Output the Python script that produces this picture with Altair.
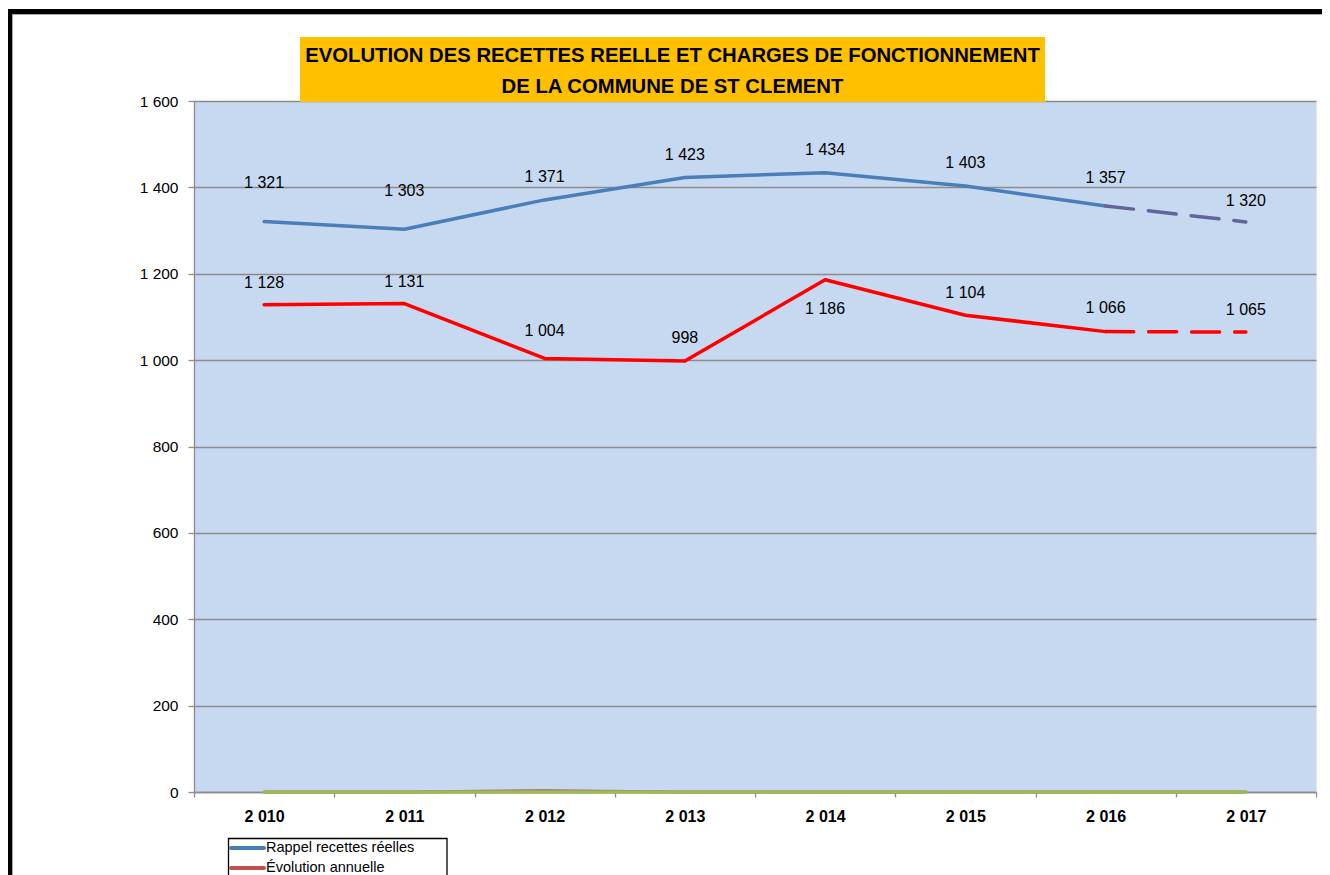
import altair as alt
import pandas as pd

# ---- data ----
YEARS = ["2 010", "2 011", "2 012", "2 013", "2 014", "2 015", "2 016", "2 017"]
RECETTES = [1321, 1303, 1371, 1423, 1434, 1403, 1357, 1320]
CHARGES = [1128, 1131, 1004, 998, 1186, 1104, 1066, 1065]
EVOLUTION = [0, 0, 3, 0, 0, 0, 0, 0]
AUTRE = [0, 0, 0, 0, 0, 0, 0, 0]
LEGEND_NAMES = ["Rappel recettes réelles", "Évolution annuelle"]
TITLE_LINES = ["EVOLUTION DES RECETTES REELLE ET CHARGES DE FONCTIONNEMENT",
               "DE LA COMMUNE DE  ST CLEMENT"]

# label offsets (style, in pixels)
RECETTES_LABEL_DY = [-38, -38, -23, -22, -23, -23, -28, -21]
CHARGES_LABEL_DY = [-22, -22, -27, -23, 29, -22, -24, -22]

BLUE = "#4A7EBB"
BLUE_DASH = "#64649B"
RED = "#FF0000"
DARK_RED = "#C0504D"
GREEN = "#9BBB59"
GRID = "#8C8C8C"
FONT = "Liberation Sans"

W, H = 1122, 691


def fmt(v):
    return f"{v:,}".replace(",", " ")


def frame(vals, idx=None):
    idx = idx if idx is not None else range(len(YEARS))
    return pd.DataFrame([{"year": YEARS[i], "value": vals[i], "label": fmt(vals[i])}
                         for i in idx])


x_enc = alt.X(
    "year:N", sort=YEARS, title=None, bandPosition=0.5,
    scale=alt.Scale(type="band", paddingInner=0, paddingOuter=0),
    axis=alt.Axis(tickBand="extent", grid=False, labelAngle=0, tickSize=5,
                  labelFontWeight="bold", labelFontSize=16, labelPadding=11,
                  labelFont=FONT, labelColor="black", domainColor=GRID,
                  tickColor=GRID, domainWidth=1.3, tickWidth=1.3),
)
y_enc = alt.Y(
    "value:Q", title=None,
    scale=alt.Scale(domain=[0, 1600], nice=False, zero=True),
    axis=alt.Axis(values=list(range(0, 1601, 200)),
                  labelExpr="replace(format(datum.value, ','), ',', ' ')",
                  grid=True, gridColor=GRID, gridWidth=1.3, tickSize=6,
                  labelPadding=10, labelFontSize=15.5, labelFont=FONT,
                  labelColor="black", domainColor=GRID, tickColor=GRID,
                  domainWidth=1.3, tickWidth=1.3),
)


def line(df, color, dash=None, width=3.5):
    kw = dict(color=color, strokeWidth=width, strokeCap="round", strokeJoin="round")
    if dash:
        kw["strokeDash"] = dash
    return alt.Chart(df).mark_line(**kw).encode(x=x_enc, y=y_enc)


solid = list(range(0, 7))
dashed = [6, 7]

blue_solid = line(frame(RECETTES, solid), BLUE)
blue_dash = line(frame(RECETTES, dashed), BLUE_DASH, dash=[28, 15])
red_solid = line(frame(CHARGES, solid), RED)
red_dash = line(frame(CHARGES, dashed), RED, dash=[28, 15])
evo = line(frame(EVOLUTION), DARK_RED, width=3)
green = line(frame(AUTRE), GREEN, width=3.5)


def labels(vals, dys):
    out = []
    for i in range(len(YEARS)):
        out.append(alt.Chart(frame(vals, [i])).mark_text(
            font=FONT, fontSize=16, color="black", baseline="middle",
            align="center", dy=dys[i]).encode(x=x_enc, y=y_enc, text="label:N"))
    return out


lab_blue = labels(RECETTES, RECETTES_LABEL_DY)
lab_red = labels(CHARGES, CHARGES_LABEL_DY)

one = pd.DataFrame({"k": [0]})

title_box = alt.Chart(one).mark_rect(color="#FFC000", clip=False).encode(
    x=alt.value(106), x2=alt.value(851), y=alt.value(-64), y2=alt.value(1))
title_1 = alt.Chart(one).mark_text(font=FONT, fontWeight="bold", fontSize=20.3,
                                   color="black", baseline="middle",
                                   align="center", clip=False).encode(
    x=alt.value(478.5), y=alt.value(-45), text=alt.value(TITLE_LINES[0]))
title_2 = alt.Chart(one).mark_text(font=FONT, fontWeight="bold", fontSize=20.3,
                                   color="black", baseline="middle",
                                   align="center", clip=False).encode(
    x=alt.value(478.5), y=alt.value(-14), text=alt.value(TITLE_LINES[1]))

# frame borders (decoration)
border_top = alt.Chart(one).mark_rule(color="black", strokeWidth=5, clip=False).encode(
    x=alt.value(-186), x2=alt.value(1136), y=alt.value(-89.5))
border_left = alt.Chart(one).mark_rule(color="black", strokeWidth=5, clip=False).encode(
    x=alt.value(-184), y=alt.value(-92), y2=alt.value(800))
inner_top = alt.Chart(one).mark_rule(color="#A6A6A6", strokeWidth=1, clip=False).encode(
    x=alt.value(-181.5), x2=alt.value(1136), y=alt.value(-86.5))
inner_left = alt.Chart(one).mark_rule(color="#A6A6A6", strokeWidth=1, clip=False).encode(
    x=alt.value(-181.5), y=alt.value(-86.5), y2=alt.value(800))

# legend (drawn manually)
leg_box = alt.Chart(one).mark_rect(fill="white", stroke="black", strokeWidth=1.3,
                                   clip=False).encode(
    x=alt.value(34.5), x2=alt.value(253), y=alt.value(737.5), y2=alt.value(820))
leg_sym1 = alt.Chart(one).mark_rule(color=BLUE, strokeWidth=4, strokeCap="round",
                                    clip=False).encode(
    x=alt.value(37), x2=alt.value(70), y=alt.value(747))
leg_sym2 = alt.Chart(one).mark_rule(color=DARK_RED, strokeWidth=4, strokeCap="round",
                                    clip=False).encode(
    x=alt.value(37), x2=alt.value(70), y=alt.value(767))
leg_t1 = alt.Chart(one).mark_text(font=FONT, fontSize=14.5, color="black",
                                  align="left", baseline="middle", clip=False).encode(
    x=alt.value(72), y=alt.value(747), text=alt.value(LEGEND_NAMES[0]))
leg_t2 = alt.Chart(one).mark_text(font=FONT, fontSize=14.5, color="black",
                                  align="left", baseline="middle", clip=False).encode(
    x=alt.value(72), y=alt.value(767), text=alt.value(LEGEND_NAMES[1]))

chart = alt.layer(
    blue_solid, blue_dash, red_solid, red_dash, evo, green,
    *lab_blue, *lab_red,
    title_box, title_1, title_2,
    border_top, border_left, inner_top, inner_left,
    leg_box, leg_sym1, leg_sym2, leg_t1, leg_t2,
).properties(
    width=W, height=H,
    autosize=alt.AutoSizeParams(type="none"),
    padding={"left": 186, "top": 93, "right": 6, "bottom": 90},
    background="white",
).configure(
    font=FONT
).configure_view(
    fill="#C6D9F0", stroke="transparent"
)

chart.save("out.html", embed_options={"renderer": "svg", "actions": False})
